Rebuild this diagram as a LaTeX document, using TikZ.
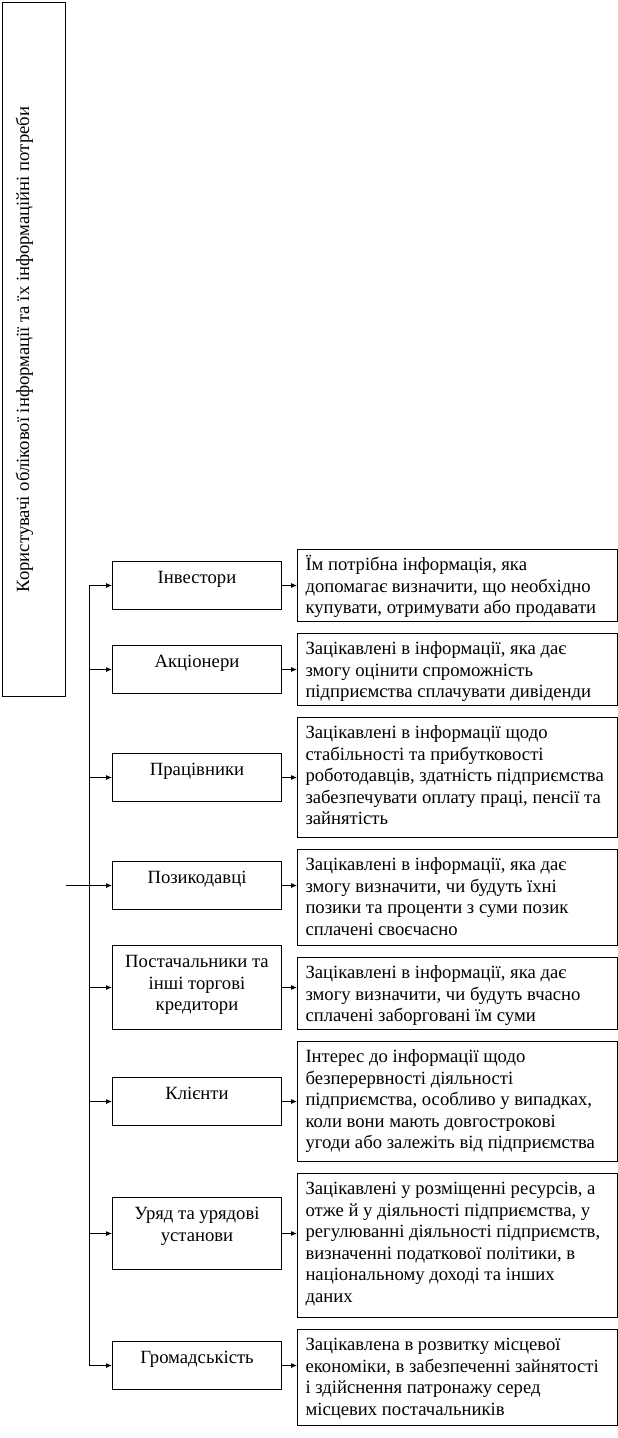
\documentclass[tikz,border=0pt]{standalone}
\usepackage{fontspec}
\setmainfont{Liberation Serif}
\usetikzlibrary{arrows.meta}
\newcommand{\tbox}[3]{\begin{minipage}[t][#2][t]{#1}\raggedright\strut#3\end{minipage}}
\newcommand{\cbox}[3]{\begin{minipage}[t][#2][t]{#1}\centering\strut#3\end{minipage}}
\begin{document}
\begin{tikzpicture}[x=1pt,y=-1pt,
  every node/.style={font=\fontsize{18.67}{21.5}\selectfont},
  rbox/.style={draw, line width=1pt, inner xsep=8pt, inner ysep=6pt, anchor=north west},
  lbox/.style={draw, line width=1pt, inner xsep=7pt, inner ysep=7pt, anchor=north west},
  conn/.style={line width=1pt},
  arr/.style={line width=1pt, -{Latex[length=6pt,width=5pt]}}]
\useasboundingbox (0,0) rectangle (618,1438);
% tall box
\node[draw, line width=1pt, minimum width=63pt, minimum height=694pt, inner sep=0pt, anchor=north west] (tall) at (2,2)
  {\rotatebox{90}{Користувачі облікової інформації та їх інформаційні потреби}\hspace*{19pt}};
% left boxes
\node[lbox] (l1) at (112,561) {\cbox{155pt}{34pt}{Інвестори}};
\node[lbox] (l2) at (112,645) {\cbox{155pt}{34pt}{Акціонери}};
\node[lbox] (l3) at (112,753) {\cbox{155pt}{34pt}{Працівники}};
\node[lbox] (l4) at (112,861) {\cbox{155pt}{34pt}{Позикодавці}};
\node[lbox] (l5) at (112,945) {\cbox{155pt}{70pt}{Постачальники та\\ інші торгові\\ кредитори}};
\node[lbox] (l6) at (112,1077) {\cbox{155pt}{34pt}{Клієнти}};
\node[lbox] (l7) at (112,1197) {\cbox{155pt}{58pt}{Уряд та урядові\\ установи}};
\node[lbox] (l8) at (112,1341) {\cbox{155pt}{34pt}{Громадськість}};
% right boxes
\node[rbox] (r1) at (297,549) {\tbox{304pt}{60pt}{Їм потрібна інформація, яка\\ допомагає визначити, що необхідно\\ купувати, отримувати або продавати}};
\node[rbox] (r2) at (297,633) {\tbox{304pt}{60pt}{Зацікавлені в інформації, яка дає\\ змогу оцінити спроможність\\ підприємства сплачувати дивіденди}};
\node[rbox] (r3) at (297,717) {\tbox{304pt}{108pt}{Зацікавлені в інформації щодо\\ стабільності та прибутковості\\ роботодавців, здатність підприємства\\ забезпечувати оплату праці, пенсії та\\ зайнятість}};
\node[rbox] (r4) at (297,849) {\tbox{304pt}{84pt}{Зацікавлені в інформації, яка дає\\ змогу визначити, чи будуть їхні\\ позики та проценти з суми позик\\ сплачені своєчасно}};
\node[rbox] (r5) at (297,957) {\tbox{304pt}{60pt}{Зацікавлені в інформації, яка дає\\ змогу визначити, чи будуть вчасно\\ сплачені заборговані їм суми}};
\node[rbox] (r6) at (297,1041) {\tbox{304pt}{108pt}{Інтерес до інформації щодо\\ безперервності діяльності\\ підприємства, особливо у випадках,\\ коли вони мають довгострокові\\ угоди або залежіть від підприємства}};
\node[rbox] (r7) at (297,1173) {\tbox{304pt}{132pt}{Зацікавлені у розміщенні ресурсів, а\\ отже й у діяльності підприємства, у\\ регулюванні діяльності підприємств,\\ визначенні податкової політики, в\\ національному доході та інших\\ даних}};
\node[rbox] (r8) at (297,1329) {\tbox{304pt}{84pt}{Зацікавлена в розвитку місцевої\\ економіки, в забезпеченні зайнятості\\ і здійснення патронажу серед\\ місцевих постачальників}};
% trunk
\coordinate (tr) at (89,0);
\draw[conn] (l1.west -| tr) -- (l8.west -| tr);
\draw[conn] (tall.east |- l4.west) -- (l4.west -| tr);
\foreach \i in {1,...,8}{
  \draw[arr] (l\i.west -| tr) -- (l\i.west);
  \draw[arr] (l\i.east) -- (l\i.east -| r\i.west);
}
\end{tikzpicture}
\end{document}
